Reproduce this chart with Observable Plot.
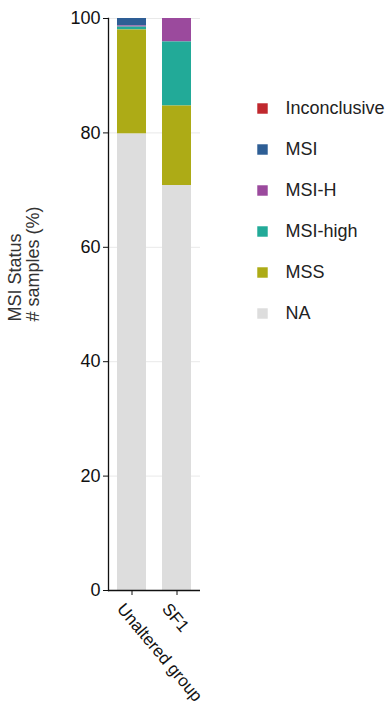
<!DOCTYPE html>
<html>
<head>
<meta charset="utf-8">
<script src="https://cdn.jsdelivr.net/npm/d3@7"></script>
<script src="https://cdn.jsdelivr.net/npm/@observablehq/plot@0.6"></script>
<style>
  body { margin: 0; background: #fff; }
  #chart { position: relative; width: 389px; height: 710px; }
  #chart > svg { position: absolute; top: 0; left: 0; }
  #legend { position: absolute; top: 0; left: 240px; }
</style>
</head>
<body>
<div id="chart"><div id="legend"></div></div>
<script>
// Sample groups and MSI status categories
const groups = ["Unaltered group", "SF1"];
const statuses = ["Inconclusive", "MSI", "MSI-H", "MSI-high", "MSS", "NA"];
const statusColors = ["#c0282e", "#2e5e95", "#9b4a9d", "#22aa98", "#adab16", "#dddddd"];

// Percentage of samples per status (same order as statuses)
const unalteredPct = [0, 1.3, 0.2, 0.5, 18.2, 79.8];
const sf1Pct = [0, 0, 4.1, 11.2, 13.9, 70.8];

const yTicks = [0, 20, 40, 60, 80, 100];
// Stacking goes from bottom (NA) to top (Inconclusive)
const stackOrder = statuses.slice().reverse();

const rows = [];
[unalteredPct, sf1Pct].forEach((vals, gi) => {
  statuses.forEach((s, si) => rows.push({group: groups[gi], status: s, pct: vals[si]}));
});

const font = "'Liberation Sans', Arial, Helvetica, sans-serif";

const chart = Plot.plot({
  width: 389,
  height: 710,
  marginLeft: 108,
  marginRight: 189,
  marginTop: 18,
  marginBottom: 120,
  style: {fontFamily: font, fontSize: "18px", color: "#111", background: "transparent"},
  x: {domain: groups, paddingInner: 0.363, paddingOuter: 0.19, label: null},
  y: {domain: [0, 100], label: null},
  color: {domain: statuses, range: statusColors},
  marks: [
    Plot.gridY(yTicks.filter(t => t > 0), {stroke: "#e9e9e9", strokeOpacity: 1, strokeWidth: 1}),
    Plot.barY(rows, Plot.stackY({order: stackOrder, x: "group", y: "pct", fill: "status"})),
    Plot.frame({anchor: "left", stroke: "#111", strokeWidth: 1.3}),
    Plot.ruleY([0], {stroke: "#111", strokeWidth: 1.3}),
    Plot.axisY({ticks: yTicks, tickSize: 5, tickPadding: 3, label: null, fontSize: 18, stroke: "#111"}),
    Plot.axisX({tickSize: 5, text: null, label: null, stroke: "#111"}),
    // Slanted group names hanging below the ticks
    Plot.text(groups, {
      x: d => d, text: d => d, frameAnchor: "bottom",
      rotate: 50, textAnchor: "start", lineAnchor: "top",
      dx: -6.5, dy: 11, fontSize: 17, fill: "#111"
    }),
    Plot.text(["MSI Status\n# samples (%)"], {
      frameAnchor: "left", rotate: -90, dx: -84, dy: 17,
      fontSize: 18, fill: "#333", lineHeight: 0.95
    })
  ]
});
document.getElementById("chart").prepend(chart);

// Status legend drawn to the right of the bars
const legend = Plot.plot({
  width: 149,
  height: 340,
  margin: 0,
  style: {fontFamily: font, fontSize: "18px", background: "transparent"},
  y: {type: "point", domain: statuses, range: [107.5, 313.5], padding: 0, axis: null},
  color: {domain: statuses, range: statusColors},
  marks: [
    Plot.dot(statuses, {y: d => d, fill: d => d, symbol: "square", r: 5.9, frameAnchor: "left", dx: 22}),
    Plot.text(statuses, {y: d => d, text: d => d, frameAnchor: "left", dx: 45, textAnchor: "start", fontSize: 18, fill: "#222"})
  ]
});
document.getElementById("legend").append(legend);
</script>
</body>
</html>
